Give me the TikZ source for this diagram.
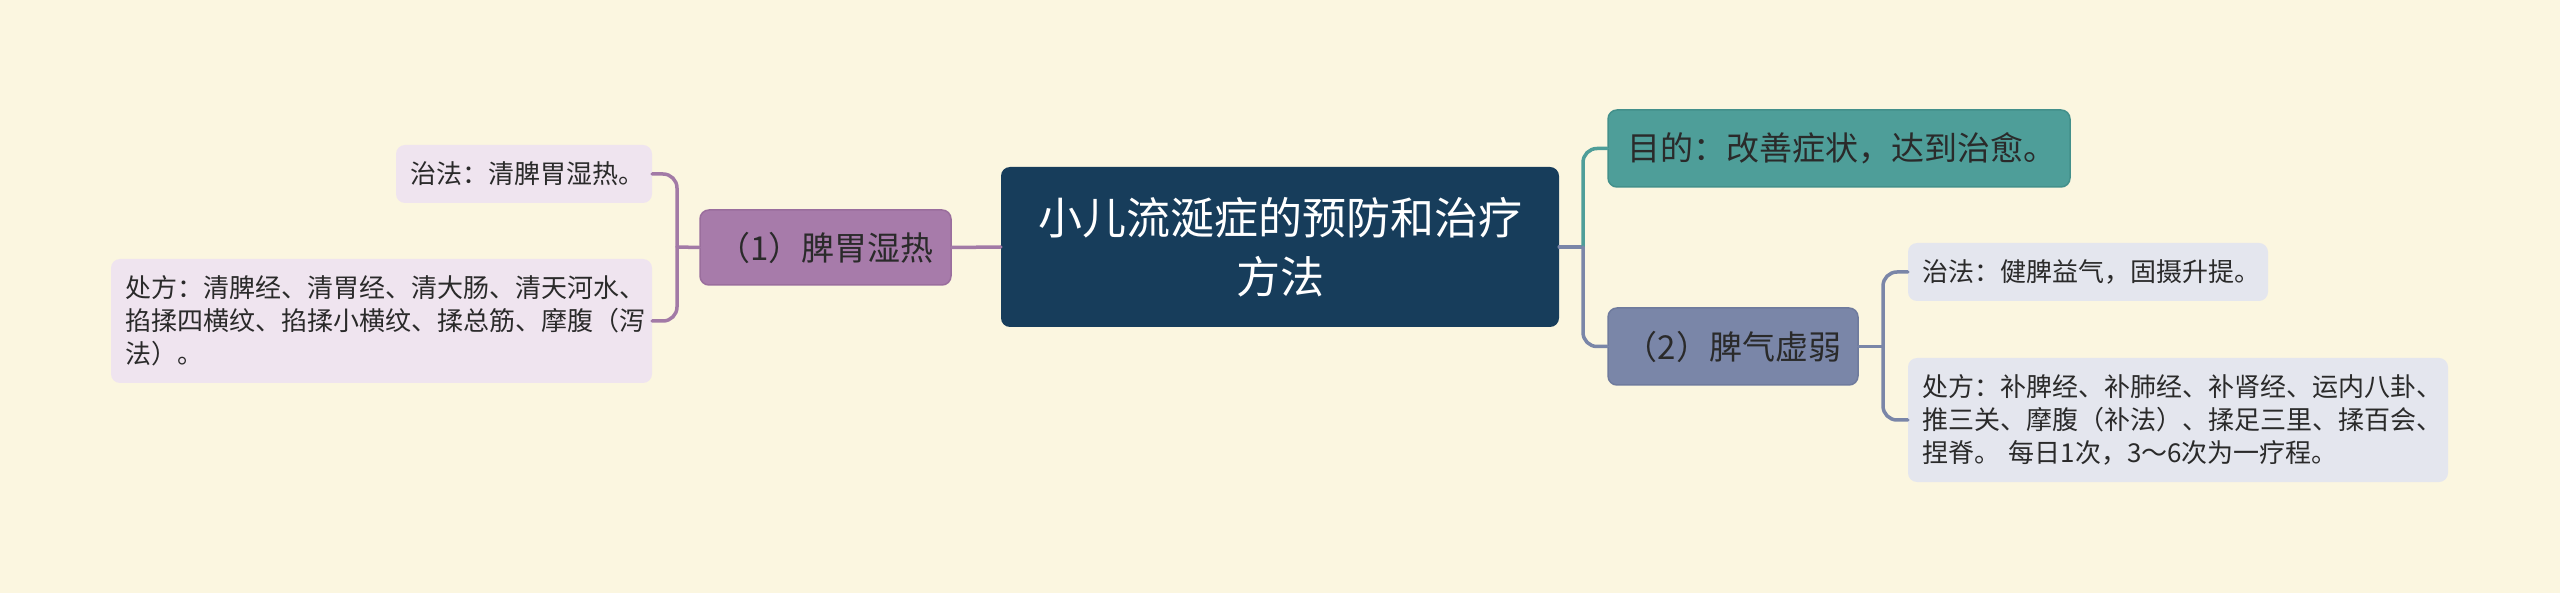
\documentclass[tikz,border=0pt]{standalone}
\usepackage{fontspec}
\setmainfont{Noto Sans CJK SC}
\definecolor{bgc}{HTML}{FBF6E0}
\definecolor{navy}{HTML}{173D5B}
\definecolor{purp}{HTML}{A77BAA}
\definecolor{purpd}{HTML}{9A6E9D}
\definecolor{purpl}{HTML}{A27AA6}
\definecolor{lav}{HTML}{EFE4EF}
\definecolor{tealc}{HTML}{4E9E99}
\definecolor{teald}{HTML}{43908B}
\definecolor{slate}{HTML}{7A86A8}
\definecolor{slated}{HTML}{6F7B9D}
\definecolor{leafb}{HTML}{E4E6EE}
\definecolor{txt}{HTML}{2A2A2A}
\tikzset{
  basebox/.style={rounded corners=9, inner ysep=0, anchor=center},
  rootbox/.style={basebox, fill=navy, text=white, align=center, inner xsep=0,
    font=\fontsize{44}{59}\selectfont},
  branchbox/.style={basebox, text=txt, align=center, inner xsep=0, line width=1.5,
    font=\fontsize{33}{40}\selectfont},
  leafbox/.style={basebox, text=txt, align=left, inner xsep=14,
    font=\fontsize{26}{33}\selectfont},
  conn/.style={line width=3.5, line cap=round},
  roundconn/.style={conn, rounded corners=14},
}
\begin{document}
\begin{tikzpicture}[x=1pt,y=-1pt]
\fill[bgc] (0,0) rectangle (2560,593);
\useasboundingbox (0,0) rectangle (2560,593);

% root
\node[rootbox, minimum width=558, minimum height=160, text width=520] (root) at (1280,247)
  {小儿流涎症的预防和治疗\\方法};

% left branch
\node[branchbox, fill=purp, draw=purpd, minimum width=251, minimum height=75, text width=240] (brL) at (825.5,247.5)
  {（1）脾胃湿热};
\node[leafbox, fill=lav, minimum width=256, minimum height=58, text width=228] (leafLa) at (524,174)
  {治法：清脾胃湿热。};
\node[leafbox, fill=lav, minimum width=541, minimum height=124, text width=513] (leafLb) at (381.5,321)
  {处方：清脾经、清胃经、清大肠、清天河水、\\掐揉四横纹、掐揉小横纹、揉总筋、摩腹（泻\\法）。};

% right branches
\node[branchbox, fill=tealc, draw=teald, align=left, inner xsep=19, minimum width=462, minimum height=77, text width=424] (goal) at (1839,148.5)
  {目的：改善症状，达到治愈。};
\node[branchbox, fill=slate, draw=slated, minimum width=250, minimum height=77, text width=240] (brR) at (1733,346.5)
  {（2）脾气虚弱};
\node[leafbox, fill=leafb, minimum width=360, minimum height=58, text width=332] (leafRa) at (2088,272)
  {治法：健脾益气，固摄升提。};
\node[leafbox, fill=leafb, minimum width=540, minimum height=124, text width=512] (leafRb) at (2178,420)
  {处方：补脾经、补肺经、补肾经、运内八卦、\\推三关、摩腹（补法）、揉足三里、揉百会、\\捏脊。 每日1次，3～6次为一疗程。};

% junctions
\coordinate (jL) at (677,247);
\coordinate (jR) at (1583,247);
\coordinate (jR2) at (1883,346.5);

% left connectors
\draw[conn, purpl] (brL.west) -- (jL);
\draw[roundconn, purpl] (leafLa.east) -| (jL) |- (leafLb.east);
\draw[conn, purpl] (root.west) -- (brL.east);

% right connectors
\draw[conn, slate] (root.east) -- (jR);
\draw[roundconn, tealc] (jR) |- (goal.west);
\draw[roundconn, slate] (jR) |- (brR.west);
\draw[conn, slate] (brR.east) -- (jR2);
\draw[roundconn, slate] (leafRa.west) -| (jR2) |- (leafRb.west);
\end{tikzpicture}
\end{document}
